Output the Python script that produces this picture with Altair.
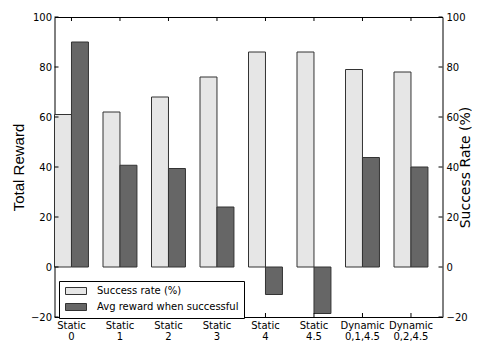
import altair as alt
import pandas as pd

categories = ["Static 0", "Static 1", "Static 2", "Static 3", "Static 4",
              "Static 4.5", "Dynamic 0,1,4.5", "Dynamic 0,2,4.5"]
success_rate = [61, 62, 68, 76, 86, 86, 79, 78]
avg_reward = [90, 40.7, 39.4, 24, -11, -18.6, 43.8, 40]
y_ticks = [-20, 0, 20, 40, 60, 80, 100]

S = "Success rate (%)"
R = "Avg reward when successful"

df = pd.DataFrame({
    "category": categories * 2,
    "series": [S] * len(categories) + [R] * len(categories),
    "value": success_rate + avg_reward,
})
ticks_df = pd.DataFrame({"t": y_ticks})
cats_df = pd.DataFrame({"category": categories})

W, H = 388, 300
FONT = "DejaVu Sans"

xaxis = alt.Axis(title=None, labelExpr="split(datum.label, ' ')", labelAngle=0,
                 labelFont=FONT, labelFontSize=10, labelColor="#000",
                 labelLineHeight=11, labelPadding=3, ticks=False, domain=False,
                 labelBaseline="top")
xscale = alt.Scale(domain=categories, paddingInner=0.3, paddingOuter=0.15, align=0)


def X(**kw):
    return alt.X("category:N", sort=categories, scale=xscale, axis=xaxis, **kw)


def yscale():
    return alt.Scale(domain=[-20, 100], nice=False, zero=False)


legend = alt.Legend(orient="none", legendX=4.5, legendY=264, title=None,
                    direction="vertical", strokeColor="#000", padding=5,
                    symbolType="M-3,-1H3V1H-3Z", symbolSize=49,
                    symbolOffset=7,
                    symbolStrokeColor="#333", symbolStrokeWidth=1,
                    labelFont=FONT, labelFontSize=10, labelColor="#000",
                    labelOffset=16, rowPadding=4, fillColor="white",
                    cornerRadius=0)

color = alt.Color("series:N", scale=alt.Scale(domain=[S, R], range=["#e6e6e6", "#666666"]),
                  legend=legend)
xoff = alt.XOffset("series:N", scale=alt.Scale(domain=[S, R], paddingInner=0, paddingOuter=0))

base = alt.Chart(df)

succ = base.transform_filter(alt.datum.series == S).mark_bar(
    stroke="#333", strokeWidth=1).encode(
    x=X(), xOffset=xoff,
    y=alt.Y("value:Q", scale=yscale(),
            axis=alt.Axis(orient="right", title="Success Rate (%)", values=y_ticks,
                          ticks=False, domain=False, grid=False, labelPadding=3.5,
                          labelFont=FONT, labelFontSize=10, labelColor="#000",
                          titleFont=FONT, titleFontSize=14, titleFontWeight="normal",
                          titleColor="#000", titleAngle=270, titleBaseline="alphabetic",
                          titleAlign="center", titleX=27, titleY=150)),
    y2=alt.datum(0),
    color=color,
)

rew = base.transform_filter(alt.datum.series == R).mark_bar(
    stroke="#333", strokeWidth=1).encode(
    x=X(), xOffset=xoff,
    y=alt.Y("value:Q", scale=yscale(),
            axis=alt.Axis(orient="left", title="Total Reward", values=y_ticks,
                          ticks=False, domain=False, grid=False, labelPadding=3,
                          labelFont=FONT, labelFontSize=10, labelColor="#000",
                          titleFont="Liberation Sans", titleFontSize=15,
                          titleFontWeight="normal", titleColor="#000",
                          titleAngle=270, titleBaseline="middle", titleAlign="center",
                          titleX=-36.5, titleY=150)),
    y2=alt.datum(0),
    color=color,
)

left_ticks = alt.Chart(ticks_df).mark_rule(color="#000", strokeWidth=1).encode(
    y=alt.Y("t:Q", scale=yscale(), axis=None), x=alt.value(0), x2=alt.value(4))
right_ticks = alt.Chart(ticks_df).mark_rule(color="#000", strokeWidth=1).encode(
    y=alt.Y("t:Q", scale=yscale(), axis=None), x=alt.value(W - 4), x2=alt.value(W))
bottom_ticks = alt.Chart(cats_df).mark_rule(color="#000", strokeWidth=1).encode(
    x=X(bandPosition=0.5), y=alt.value(H - 4), y2=alt.value(H))
top_ticks = alt.Chart(cats_df).mark_rule(color="#000", strokeWidth=1).encode(
    x=X(bandPosition=0.5), y=alt.value(0), y2=alt.value(4))

chart = alt.layer(succ, rew, left_ticks, right_ticks, bottom_ticks, top_ticks).resolve_scale(
    y="independent"
).properties(
    width=W, height=H,
    autosize=alt.AutoSizeParams(type="none"),
    padding={"left": 46.5, "top": 9, "right": 29.5, "bottom": 26},
    background="white",
).configure_view(stroke="#000", strokeWidth=1)

chart.save("out.html", embed_options={"renderer": "svg", "actions": False})
